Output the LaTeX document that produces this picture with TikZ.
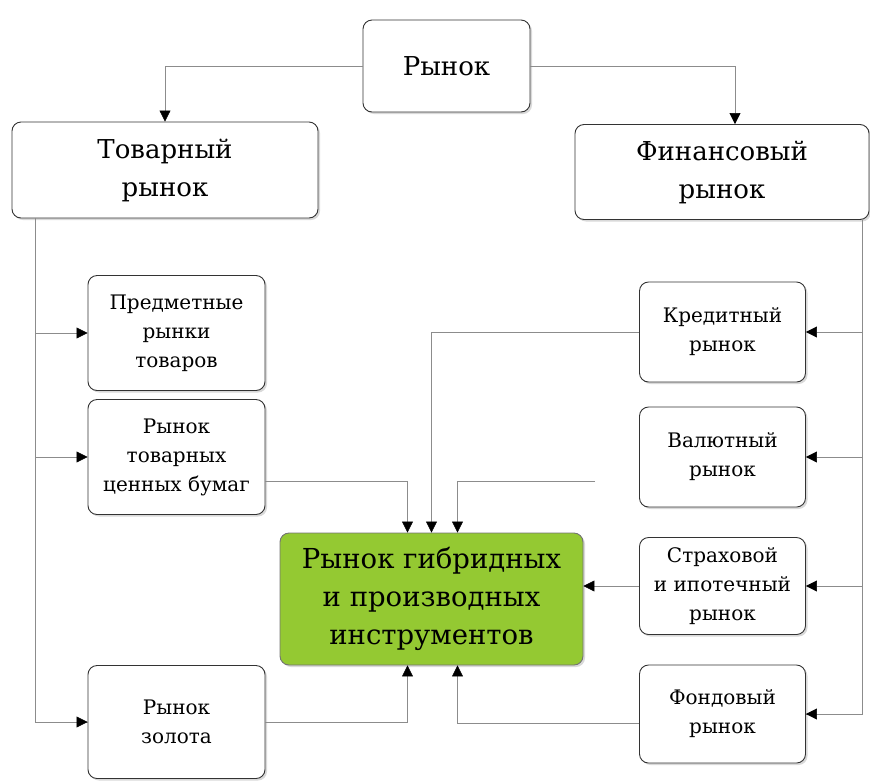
\documentclass[tikz,border=0pt]{standalone}
\usepackage{fontspec}
\setmainfont{DejaVu Serif}
\usetikzlibrary{arrows.meta,shadows}

\definecolor{hybridgreen}{RGB}{148,201,50}

\begin{document}
\begin{tikzpicture}[x=1pt,y=-1pt,line width=0.6pt]
    \tikzstyle{box}=[draw=black!80,line width=0.9pt,rounded corners=9pt,fill=white,align=center,inner sep=2pt,
        drop shadow={shadow xshift=2pt,shadow yshift=-2pt,fill=black!25,opacity=0.6}]
    \tikzstyle{big box}=[box,font=\fontsize{26}{38}\selectfont]
    \tikzstyle{small box}=[box,font=\fontsize{20}{29}\selectfont,minimum width=166pt,minimum height=100pt]
    \tikzstyle{hybrid box}=[box,fill=hybridgreen,draw=black!55,font=\fontsize{27.5}{38}\selectfont,
        minimum width=303pt,minimum height=132pt]
    \tikzstyle{link}=[draw=black!45,-{Triangle[width=11pt,length=11pt,color=black]}]

    \useasboundingbox (0,0) rectangle (870,780);

    % Draw the top level nodes
    \node[big box,minimum width=167pt,minimum height=92pt] (market) at (446.5,66) {Рынок};
    \node[big box,minimum width=306pt,minimum height=96pt] (goods) at (165,170) {Товарный\\рынок};
    \node[big box,minimum width=294pt,minimum height=95pt] (finance) at (722,172) {Финансовый\\рынок};

    % Draw the commodity markets
    \node[small box,minimum width=177pt,minimum height=115pt] (subject) at (176.5,333) {Предметные\\рынки\\товаров};
    \node[small box,minimum width=177pt,minimum height=115pt] (paper) at (176.5,457) {Рынок\\товарных\\ценных бумаг};
    \node[small box,minimum width=177pt,minimum height=113pt] (gold) at (176.5,722) {Рынок\\золота};

    % Draw the financial markets
    \node[small box] (credit) at (722.5,332) {Кредитный\\рынок};
    \node[small box] (currency) at (722.5,457) {Валютный\\рынок};
    \node[small box,minimum height=97pt] (insurance) at (722.5,586) {Страховой\\и ипотечный\\рынок};
    \node[small box,minimum height=98pt] (stock) at (722.5,714) {Фондовый\\рынок};

    % Draw the central node
    \node[hybrid box] (hybrid) at (431.5,599) {Рынок гибридных\\и производных\\инструментов};

    % Connect the market with both branches
    \draw[link] (market.west) -| (goods.north);
    \draw[link] (market.east) -| ([xshift=13pt]finance.north);

    % Left trunk to the commodity markets
    \coordinate (left trunk) at (35,218);
    \draw[draw=black!45] (left trunk) |- (gold.west);
    \draw[link] (left trunk |- subject.west) -- (subject.west);
    \draw[link] (left trunk |- paper.west) -- (paper.west);
    \draw[link] (left trunk |- gold.west) -- (gold.west);

    % Right trunk to the financial markets
    \coordinate (right trunk) at (862,220);
    \draw[draw=black!45] (right trunk) |- (stock.east);
    \draw[link] (right trunk |- credit.east) -- (credit.east);
    \draw[link] (right trunk |- currency.east) -- (currency.east);
    \draw[link] (right trunk |- insurance.east) -- (insurance.east);
    \draw[link] (right trunk |- stock.east) -- (stock.east);

    % Connect the markets with the central node
    \coordinate (free end) at (595,481);
    \draw[link] ([yshift=-24pt]paper.east) -| ([xshift=-24pt]hybrid.north);
    \draw[link] (credit.west) -| (hybrid.north);
    \draw[link] (free end) -| ([xshift=26pt]hybrid.north);
    \draw[link] (insurance.west) -- (hybrid.east |- insurance.west);
    \draw[link] (gold.east) -| ([xshift=-24pt]hybrid.south);
    \draw[link] ([yshift=-9pt]stock.west) -| ([xshift=26pt]hybrid.south);
\end{tikzpicture}
\end{document}
